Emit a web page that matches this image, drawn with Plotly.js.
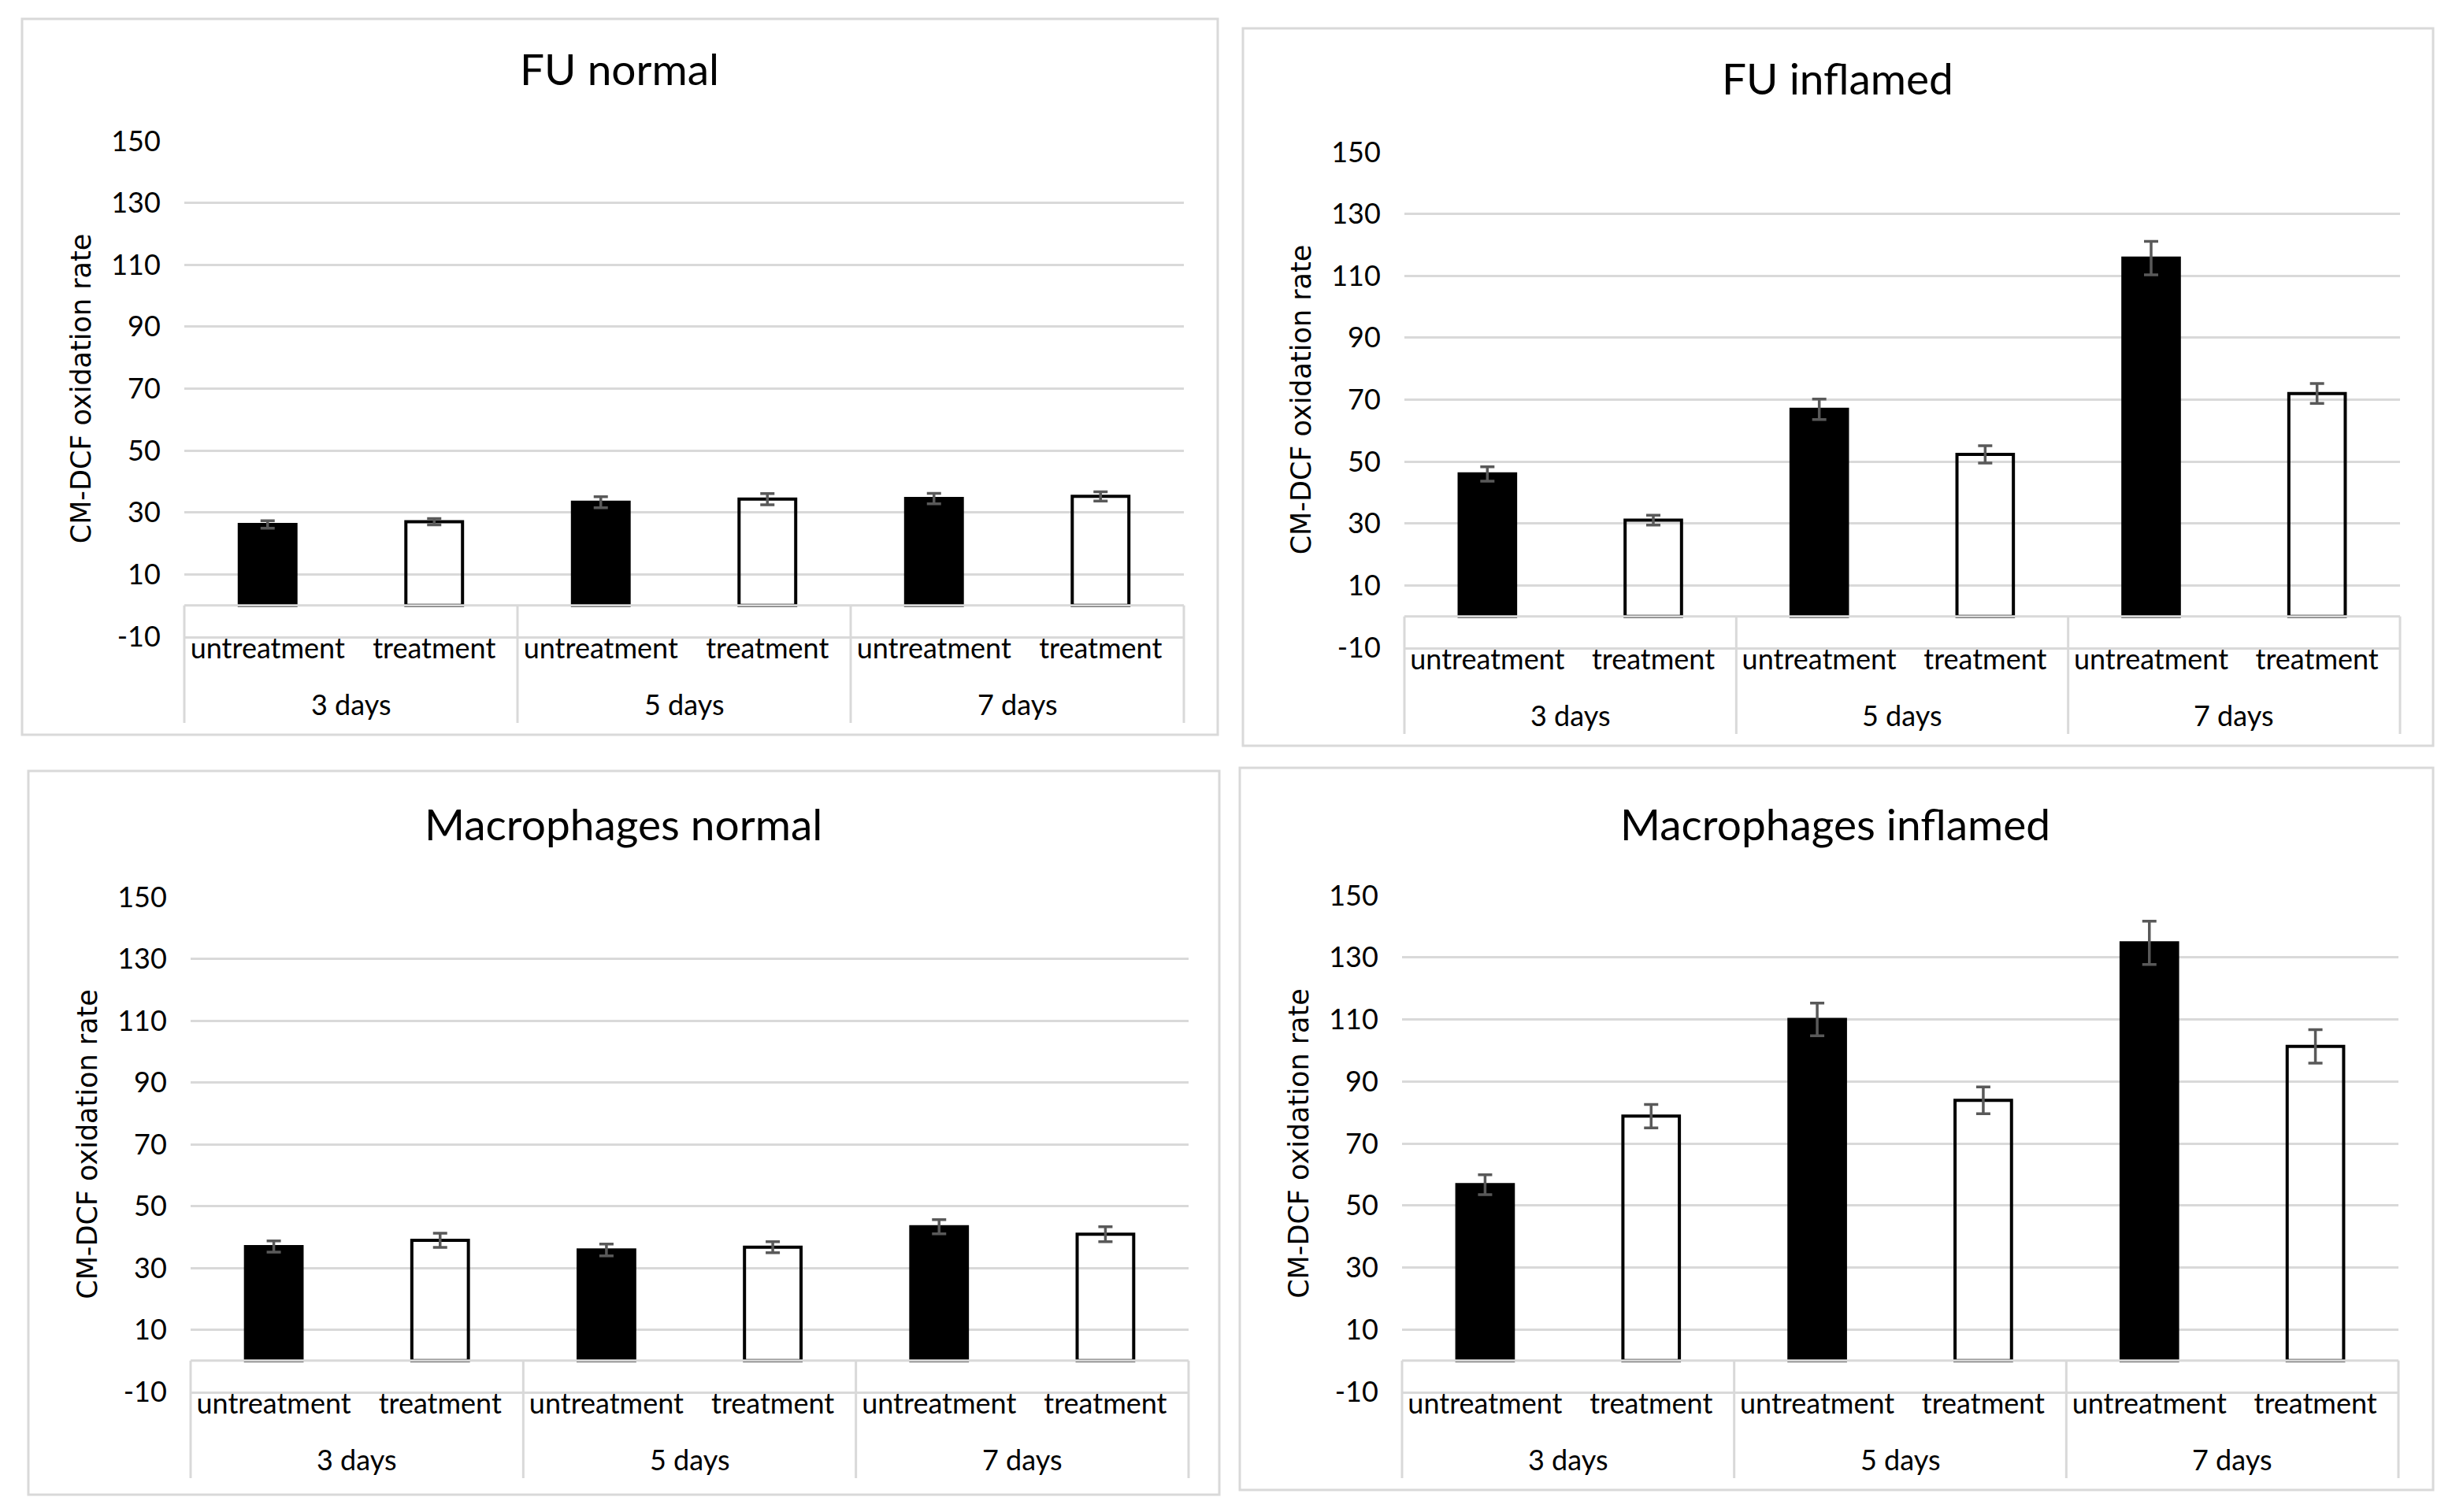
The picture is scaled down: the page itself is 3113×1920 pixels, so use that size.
<!DOCTYPE html>
<html>
<head>
<meta charset="utf-8">
<script src="https://cdn.plot.ly/plotly-3.0.1.min.js"></script>
<style>html,body{margin:0;padding:0;background:#fff;}#chart{width:3113px;height:1920px;}</style>
</head>
<body>
<div id="chart"></div>
<script>
// ---- data ----
const days = ['3 days', '5 days', '7 days'];
const conditions = ['untreatment', 'treatment'];
const panelTitles = ['FU normal', 'FU inflamed', 'Macrophages normal', 'Macrophages inflamed'];
const yTitle = 'CM-DCF oxidation rate';

const fuNormal = [26.1, 27.0, 33.3, 34.3, 34.5, 35.2];
const fuNormalErr = [1.2, 1.0, 1.8, 1.8, 1.7, 1.5];
const fuInflamed = [46.0, 31.1, 66.9, 52.3, 115.7, 72.0];
const fuInflamedErr = [2.3, 1.6, 3.3, 2.8, 5.4, 3.2];
const macNormal = [36.9, 38.9, 35.8, 36.7, 43.3, 40.9];
const macNormalErr = [1.8, 2.3, 1.9, 1.8, 2.3, 2.4];
const macInflamed = [56.7, 78.8, 110.0, 83.9, 134.7, 101.3];
const macInflamedErr = [3.2, 3.8, 5.3, 4.3, 7.0, 5.4];

const yTickVals = [-10, 10, 30, 50, 70, 90, 110, 130, 150];
const yTickText = ['-10', '10', '30', '50', '70', '90', '110', '130', '150'];
const conditionFill = ['#000000', 'rgba(255,255,255,0)'];

// ---- build ----
const nC = conditions.length;
const xPos = [], xText = [], fills = [];
days.forEach((d, i) => conditions.forEach((c, j) => { xPos.push(i * nC + j); xText.push(c); fills.push(conditionFill[j]); }));

const series = [
  [fuNormal, fuNormalErr],
  [fuInflamed, fuInflamedErr],
  [macNormal, macNormalErr],
  [macInflamed, macInflamedErr]
];

// panel geometry (pixels)
const W = 3113, H = 1920;
const plotBoxes = [
  {x0: 234, x1: 1503, yb: 808, yt: 179},
  {x0: 1783, x1: 3047, yb: 822, yt: 193},
  {x0: 242, x1: 1509, yb: 1767, yt: 1139},
  {x0: 1780, x1: 3045, yb: 1767, yt: 1137}
];
const borders = [
  {x0: 28, x1: 1546, y0: 24, y1: 933},
  {x0: 1578, x1: 3089, y0: 36, y1: 947},
  {x0: 36, x1: 1548, y0: 979, y1: 1898},
  {x0: 1574, x1: 3089, y0: 975, y1: 1892}
];
const titlePos = [[786, 87], [2333, 99], [792, 1046], [2330, 1046]];
const groupLabelOffset = 86;   // px below plot bottom
const dividerBottom = 110;     // px below plot bottom

const tickFont = {family: 'Lato, "Liberation Sans", sans-serif', size: 36, color: '#000'};
const gray = '#d9d9d9';
const data = [];
const layout = {
  width: W, height: H,
  margin: {l: 0, r: 0, t: 0, b: 0},
  paper_bgcolor: '#fff', plot_bgcolor: '#fff',
  showlegend: false,
  annotations: [],
  shapes: []
};

series.forEach((s, k) => {
  const n = k === 0 ? '' : String(k + 1);
  data.push({
    type: 'bar',
    x: xPos,
    y: s[0],
    xaxis: 'x' + n, yaxis: 'y' + n,
    width: 0.34,
    marker: {color: fills, line: {color: '#000', width: 4}},
    error_y: {type: 'data', array: s[1], visible: true, color: '#595959', thickness: 3.5, width: 9},
    hoverinfo: 'skip'
  });
  const b = plotBoxes[k];
  const hPx = b.yb - b.yt;
  layout['xaxis' + n] = {
    domain: [b.x0 / W, b.x1 / W],
    anchor: 'y' + n,
    range: [-0.5, xPos.length - 0.5],
    tickvals: xPos, ticktext: xText,
    showgrid: false,
    showline: true, linecolor: gray, linewidth: 3,
    zeroline: false,
    tickfont: tickFont,
    ticks: '',
    ticklabelstandoff: -18,
    fixedrange: true
  };
  layout['yaxis' + n] = {
    domain: [1 - b.yb / H, 1 - b.yt / H],
    anchor: 'x' + n,
    range: [-10, 150],
    tickvals: yTickVals, ticktext: yTickText,
    showgrid: true, gridcolor: gray, gridwidth: 3,
    zeroline: false,
    showline: false,
    ticks: 'outside', ticklen: 22, tickcolor: 'rgba(0,0,0,0)',
    tickfont: tickFont,
    title: {text: yTitle, font: {family: '"DejaVu Sans", sans-serif', size: 35, color: '#000'}, standoff: 14},
    fixedrange: true
  };
  // category axis line at value 0, drawn above the bars
  layout.shapes.push({type: 'line', xref: 'x' + n + ' domain', yref: 'y' + n,
    x0: 0, x1: 1, y0: 0, y1: 0, layer: 'above', line: {color: gray, width: 3}});
  // group dividers from the axis line down past the group labels
  const yZeroPx = b.yb - hPx * 10 / 160;
  for (let g = 0; g <= days.length; g++) {
    layout.shapes.push({type: 'line', xref: 'x' + n + ' domain', yref: 'paper',
      x0: g / days.length, x1: g / days.length,
      y0: 1 - (b.yb + dividerBottom) / H, y1: 1 - yZeroPx / H,
      line: {color: gray, width: 3}});
  }
  // group labels
  days.forEach((d, i) => {
    layout.annotations.push({
      text: d, xref: 'x' + n, yref: 'paper',
      x: i * nC + (nC - 1) / 2, y: 1 - (b.yb + groupLabelOffset) / H,
      xanchor: 'center', yanchor: 'middle', showarrow: false, font: tickFont
    });
  });
  const bd = borders[k];
  layout.shapes.push({type: 'rect', xref: 'paper', yref: 'paper',
    x0: bd.x0 / W, x1: bd.x1 / W, y0: 1 - bd.y1 / H, y1: 1 - bd.y0 / H,
    line: {color: gray, width: 3}, fillcolor: 'rgba(0,0,0,0)', layer: 'below'});
  layout.annotations.push({
    text: panelTitles[k], xref: 'paper', yref: 'paper',
    x: titlePos[k][0] / W, y: 1 - titlePos[k][1] / H,
    xanchor: 'center', yanchor: 'middle', showarrow: false,
    font: {family: 'Lato, "Liberation Sans", sans-serif', size: 55, color: '#000'}
  });
});

Plotly.newPlot('chart', data, layout, {staticPlot: true});
</script>
</body>
</html>
